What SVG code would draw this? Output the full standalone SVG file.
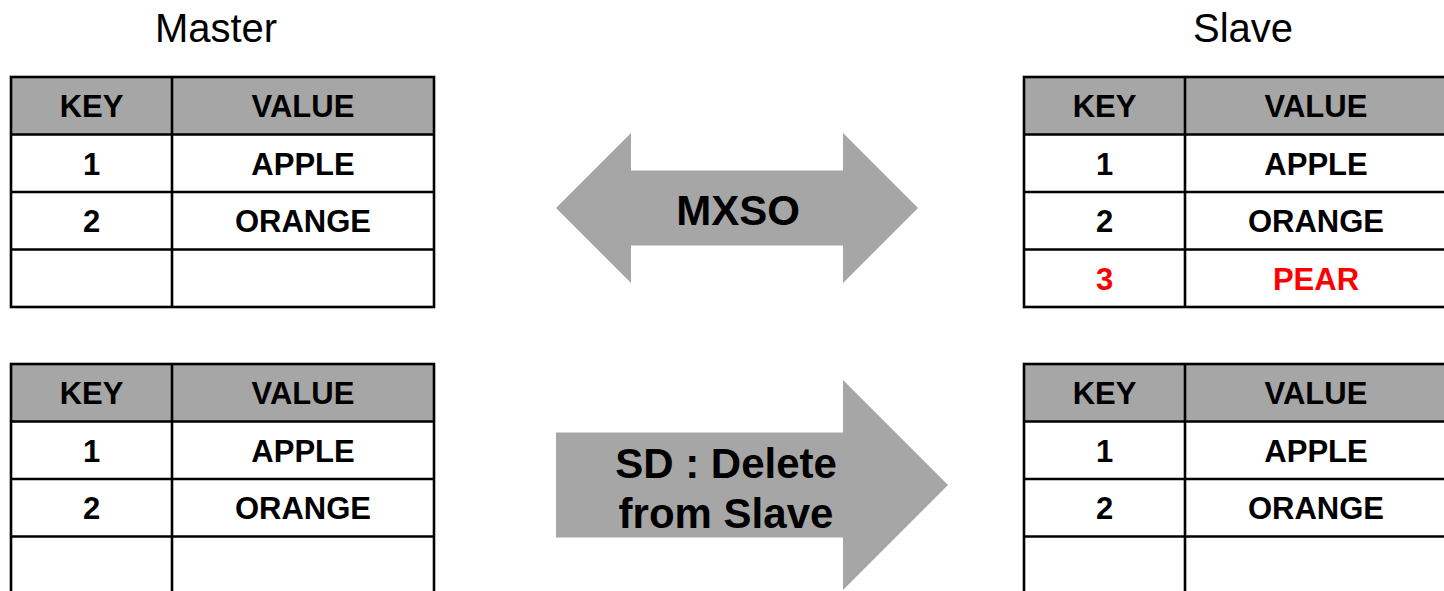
<svg xmlns="http://www.w3.org/2000/svg" width="1444" height="591" viewBox="0 0 1444 591">
  <style>
    .title { font-family: "Liberation Sans", Arial, sans-serif; font-size: 40px; fill: #000; text-anchor: middle; }
    .cell { font-family: "Liberation Sans", Arial, sans-serif; font-size: 31px; font-weight: bold; fill: #000; text-anchor: middle; }
    .cell.new { fill: #ff0000; }
    .arrowText { font-family: "Liberation Sans", Arial, sans-serif; font-size: 42px; font-weight: bold; fill: #000; text-anchor: middle; }
    .head { fill: #a6a6a6; }
    .body { fill: #ffffff; }
    .grid { fill: none; stroke: #000; stroke-width: 2.6; }
    .arrow { fill: #a6a6a6; stroke: none; }
  </style>

  <rect width="1444" height="591" fill="#ffffff"/>

  <!-- side titles -->
  <g id="title-master"><text class="title" x="216" y="42">Master</text></g>
  <g id="title-slave"><text class="title" x="1243" y="42">Slave</text></g>

  <!-- master table, before -->
  <g id="master-top">
    <rect class="head" x="11" y="77" width="423" height="57.5"/>
    <rect class="body" x="11" y="134.5" width="423" height="172.5"/>
    <rect class="grid" x="11" y="77" width="423" height="230"/>
    <path class="grid" d="M172 77V307M11 134.5H434M11 192H434M11 249.5H434"/>
    <text class="cell" x="91.5" y="117">KEY</text>
    <text class="cell" x="303" y="117">VALUE</text>
    <text class="cell" x="91.5" y="174.5">1</text>
    <text class="cell" x="303" y="174.5">APPLE</text>
    <text class="cell" x="91.5" y="232">2</text>
    <text class="cell" x="303" y="232">ORANGE</text>
  </g>

  <!-- slave table, before -->
  <g id="slave-top">
    <rect class="head" x="1024" y="77" width="423" height="57.5"/>
    <rect class="body" x="1024" y="134.5" width="423" height="172.5"/>
    <rect class="grid" x="1024" y="77" width="423" height="230"/>
    <path class="grid" d="M1185 77V307M1024 134.5H1447M1024 192H1447M1024 249.5H1447"/>
    <text class="cell" x="1104.5" y="117">KEY</text>
    <text class="cell" x="1316" y="117">VALUE</text>
    <text class="cell" x="1104.5" y="174.5">1</text>
    <text class="cell" x="1316" y="174.5">APPLE</text>
    <text class="cell" x="1104.5" y="232">2</text>
    <text class="cell" x="1316" y="232">ORANGE</text>
    <text class="cell new" x="1104.5" y="289.5">3</text>
    <text class="cell new" x="1316" y="289.5">PEAR</text>
  </g>

  <!-- master table, after -->
  <g id="master-bottom">
    <rect class="head" x="11" y="364" width="423" height="57.5"/>
    <rect class="body" x="11" y="421.5" width="423" height="172.5"/>
    <rect class="grid" x="11" y="364" width="423" height="230"/>
    <path class="grid" d="M172 364V594M11 421.5H434M11 479H434M11 536.5H434"/>
    <text class="cell" x="91.5" y="404">KEY</text>
    <text class="cell" x="303" y="404">VALUE</text>
    <text class="cell" x="91.5" y="461.5">1</text>
    <text class="cell" x="303" y="461.5">APPLE</text>
    <text class="cell" x="91.5" y="519">2</text>
    <text class="cell" x="303" y="519">ORANGE</text>
  </g>

  <!-- slave table, after -->
  <g id="slave-bottom">
    <rect class="head" x="1024" y="364" width="423" height="57.5"/>
    <rect class="body" x="1024" y="421.5" width="423" height="172.5"/>
    <rect class="grid" x="1024" y="364" width="423" height="230"/>
    <path class="grid" d="M1185 364V594M1024 421.5H1447M1024 479H1447M1024 536.5H1447"/>
    <text class="cell" x="1104.5" y="404">KEY</text>
    <text class="cell" x="1316" y="404">VALUE</text>
    <text class="cell" x="1104.5" y="461.5">1</text>
    <text class="cell" x="1316" y="461.5">APPLE</text>
    <text class="cell" x="1104.5" y="519">2</text>
    <text class="cell" x="1316" y="519">ORANGE</text>
  </g>

  <!-- block arrows -->
  <g id="connectors">
    <g id="arrow-mxso">
      <polygon class="arrow" points="556,208 631,133 631,170.5 843,170.5 843,133 918,208 843,283 843,245.5 631,245.5 631,283"/>
      <text class="arrowText" x="738" y="225">MXSO</text>
    </g>
    <g id="arrow-sd">
      <polygon class="arrow" points="556,432.5 843,432.5 843,380 948,485 843,590 843,537.5 556,537.5"/>
      <text class="arrowText" x="726" y="478">SD : Delete</text>
      <text class="arrowText" x="726" y="528">from Slave</text>
    </g>
  </g>
</svg>
